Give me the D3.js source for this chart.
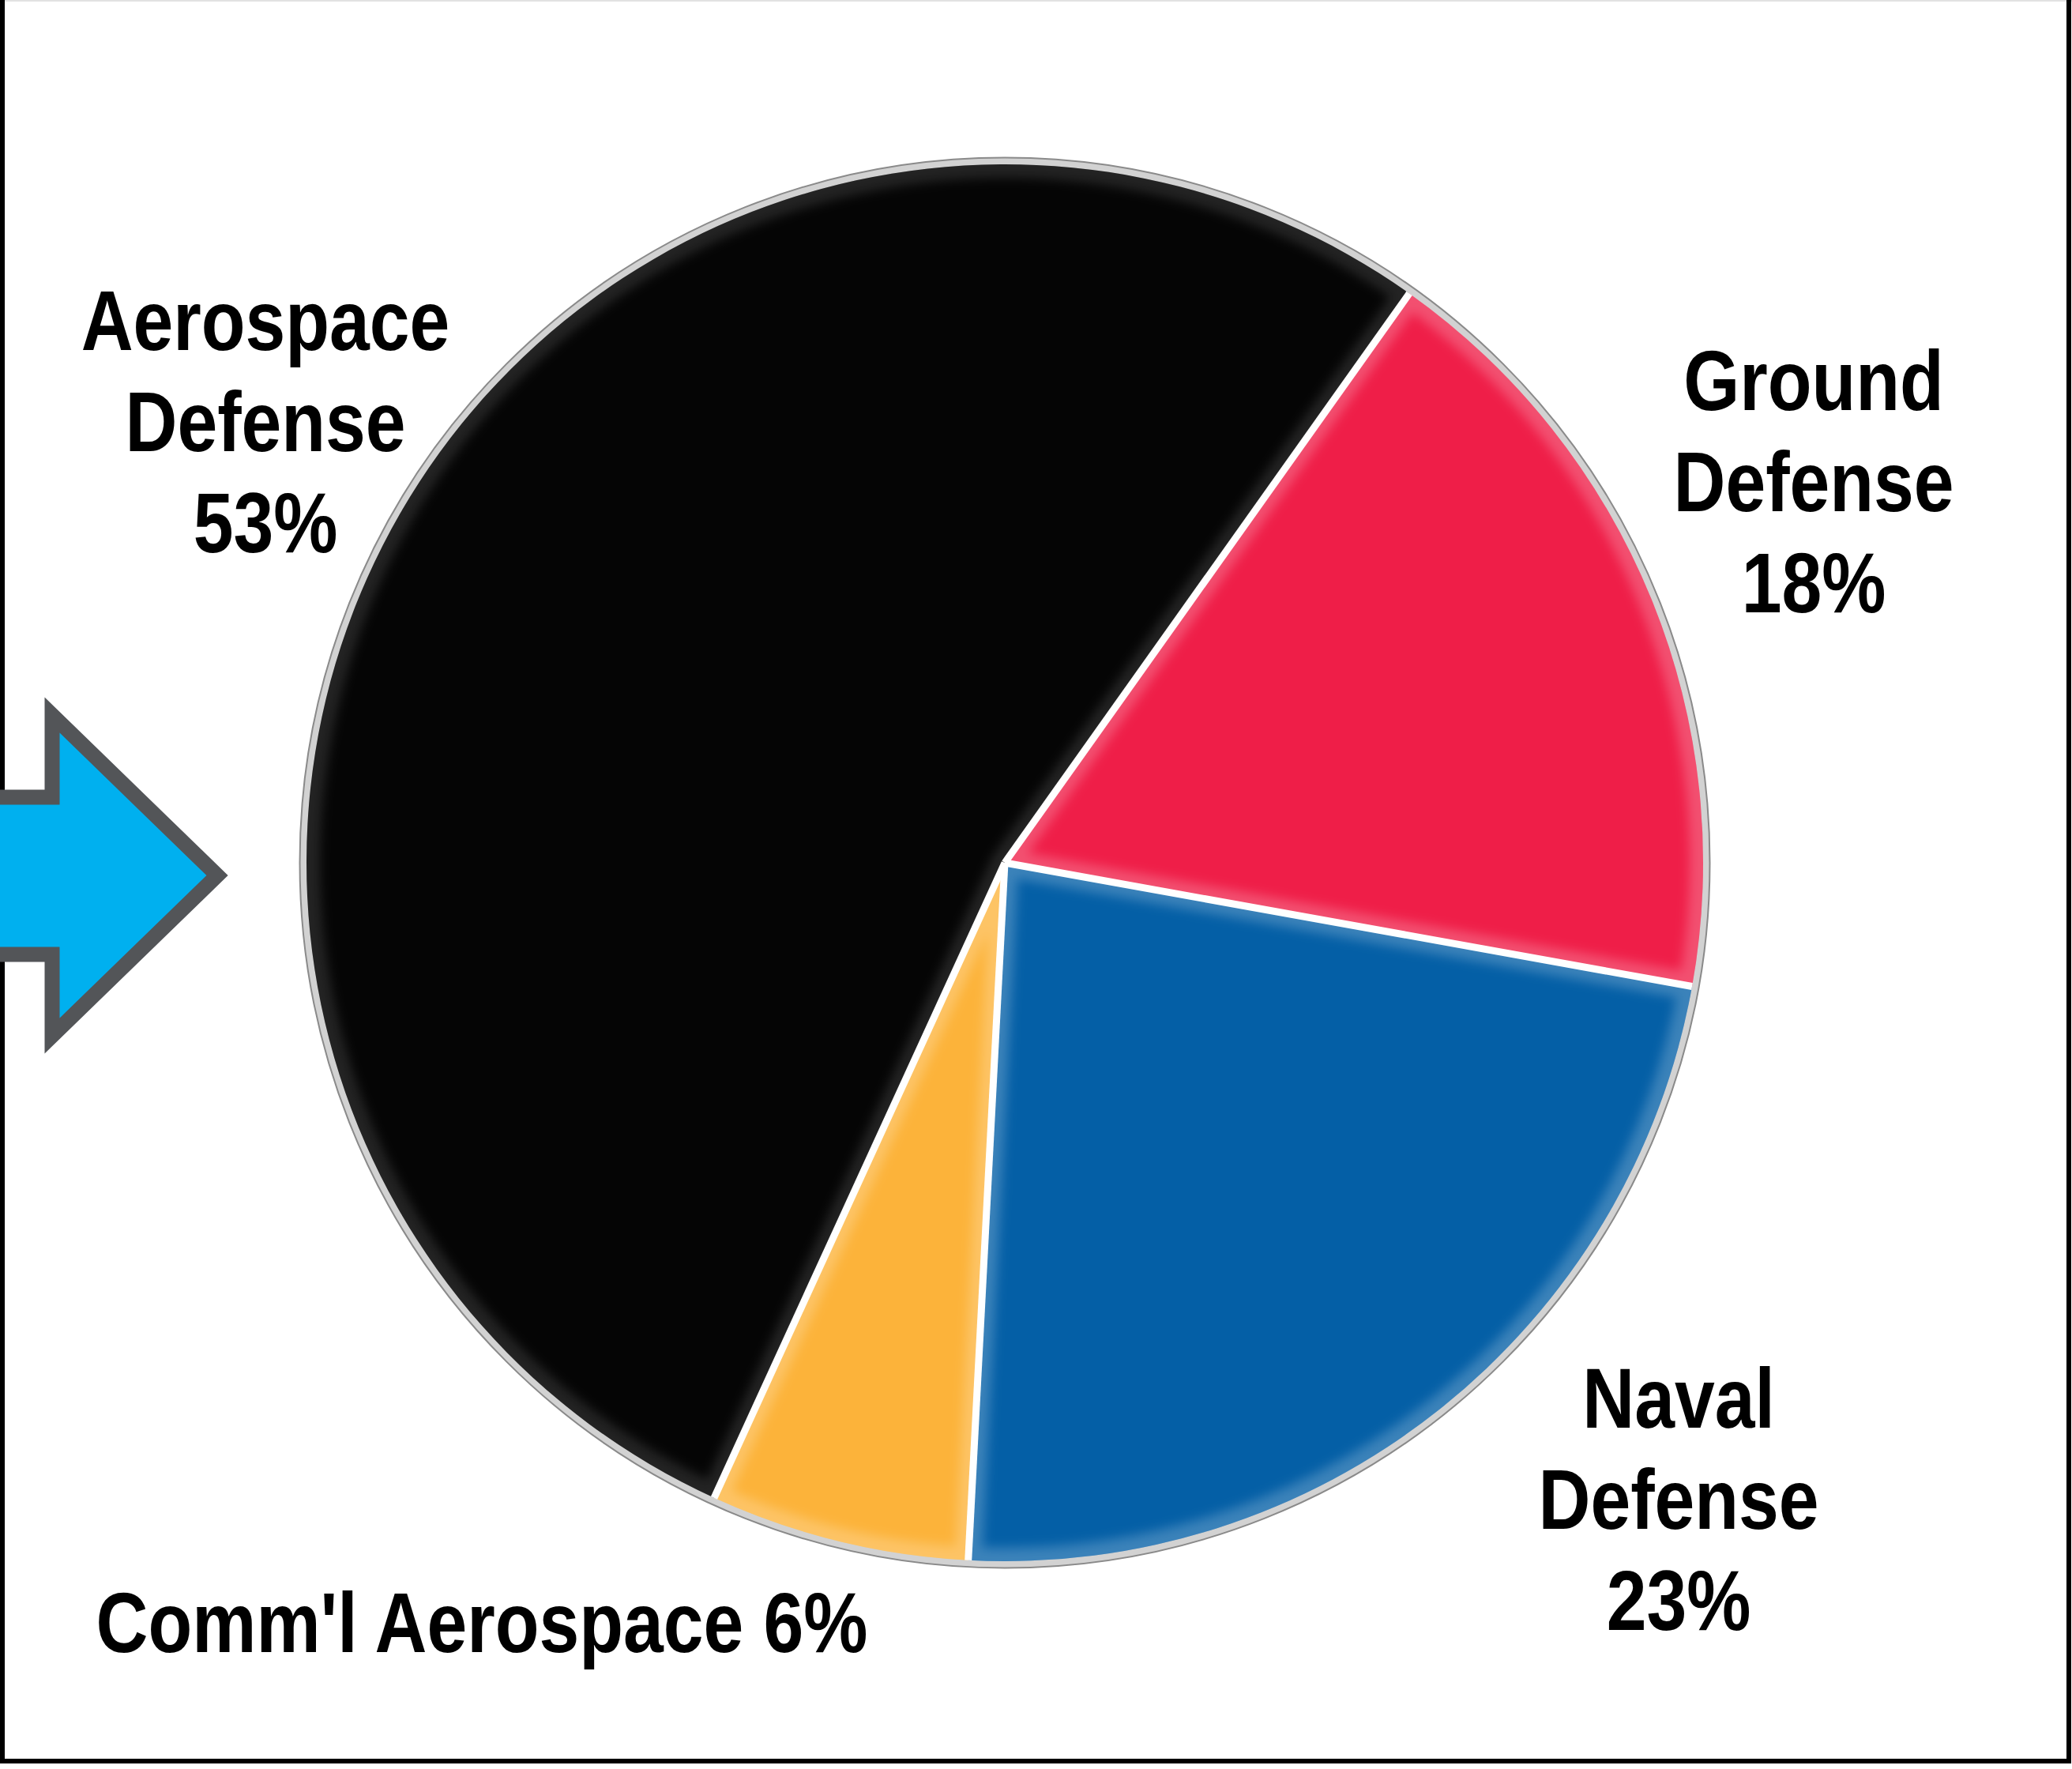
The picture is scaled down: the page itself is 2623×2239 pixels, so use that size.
<!DOCTYPE html>
<html>
<head>
<meta charset="utf-8">
<script src="https://cdn.jsdelivr.net/npm/d3@7"></script>
<style>
  html, body { margin: 0; padding: 0; background: #ffffff; }
  svg { display: block; }
</style>
</head>
<body>
<script>
// ---- Data ----
const categories = ["Aerospace Defense", "Ground Defense", "Naval Defense", "Comm'l Aerospace"];
const values = [53, 18, 23, 6];
const labelLines = [
  ["Aerospace", "Defense", "53%"],
  ["Ground", "Defense", "18%"],
  ["Naval", "Defense", "23%"],
  ["Comm'l Aerospace 6%"]
];
const colors = ["#050505", "#EF1E48", "#045FA6", "#FCB33A"];

// ---- Layout ----
const W = 2623, H = 2239;
const cx = 1272, cy = 1092;
const rOuter = 884;
const startDeg = -155.4;
const deg = Math.PI / 180;

const svg = d3.select("body").append("svg")
  .attr("width", W).attr("height", H)
  .attr("viewBox", `0 0 ${W} ${H}`);

const defs = svg.append("defs");
defs.append("filter").attr("id", "soft")
  .attr("x", "-20%").attr("y", "-20%").attr("width", "140%").attr("height", "140%")
  .append("feGaussianBlur").attr("stdDeviation", 7);

// Frame
svg.append("line").attr("x1", 0).attr("x2", W).attr("y1", 1).attr("y2", 1)
  .attr("stroke", "#e2e2e2").attr("stroke-width", 2);
svg.append("line").attr("x1", 3).attr("x2", 3).attr("y1", 0).attr("y2", 2232)
  .attr("stroke", "#000").attr("stroke-width", 6);
svg.append("line").attr("x1", 2619).attr("x2", 2619).attr("y1", 0).attr("y2", 2232)
  .attr("stroke", "#000").attr("stroke-width", 6);
svg.append("line").attr("x1", 0).attr("x2", 2622).attr("y1", 2229).attr("y2", 2229)
  .attr("stroke", "#000").attr("stroke-width", 6);

// Arrow
const arrowPts = [[-20, 1009], [66, 1009], [66, 905], [275, 1108], [66, 1311], [66, 1208], [-20, 1208]];
svg.append("path")
  .attr("d", d3.line()(arrowPts) + "Z")
  .attr("fill", "#00B0EF")
  .attr("stroke", "#535558")
  .attr("stroke-width", 19)
  .attr("stroke-linejoin", "miter")
  .attr("stroke-miterlimit", 10);

// Pie
const pie = d3.pie().sort(null).value(d => d.value)
  .startAngle(startDeg * deg).endAngle((startDeg + 360) * deg);
const data = categories.map((c, i) => ({ name: c, value: values[i], color: colors[i], i }));
const arcs = pie(data);
const arc = d3.arc().innerRadius(0).outerRadius(rOuter);

const g = svg.append("g").attr("transform", `translate(${cx},${cy})`);

// outer ring
g.append("circle").attr("r", rOuter + 8).attr("fill", "none")
  .attr("stroke", "#8a8a8a").attr("stroke-width", 3);
g.append("circle").attr("r", rOuter + 3).attr("fill", "none")
  .attr("stroke", "#d2d2d2").attr("stroke-width", 9);

arcs.forEach((a, k) => {
  defs.append("clipPath").attr("id", "clip" + k)
    .append("path").attr("d", arc(a));
});

g.selectAll("path.slice")
  .data(arcs)
  .join("path")
  .attr("class", "slice")
  .attr("d", arc)
  .attr("fill", d => d.data.color);

// subtle bevel highlight along slice edges
g.selectAll("g.bevel")
  .data(arcs)
  .join("g")
  .attr("class", "bevel")
  .attr("clip-path", (d, k) => `url(#clip${k})`)
  .append("path")
  .attr("d", arc)
  .attr("fill", "none")
  .attr("stroke", "#ffffff")
  .attr("stroke-width", 34)
  .attr("stroke-opacity", d => d.index === 0 ? 0.12 : 0.22)
  .attr("filter", "url(#soft)");

// white separators
g.selectAll("path.sep")
  .data(arcs)
  .join("path")
  .attr("class", "sep")
  .attr("d", d => {
    const p = d3.path();
    p.moveTo(0, 0);
    p.lineTo(Math.sin(d.startAngle) * rOuter, -Math.cos(d.startAngle) * rOuter);
    return p.toString();
  })
  .attr("stroke", "#ffffff")
  .attr("stroke-width", 9)
  .attr("stroke-linecap", "butt");

// Labels
const labelPos = [
  { x: 336, y: 443 },
  { x: 2296, y: 519 },
  { x: 2125, y: 1807 },
  { x: 610, y: 2091 }
];
const lineGap = 128;
const fontSize = 108;
const sx = 0.845;

const labels = svg.selectAll("g.label")
  .data(arcs)
  .join("g")
  .attr("class", "label")
  .attr("transform", (d, k) => `translate(${labelPos[k].x},${labelPos[k].y}) scale(${sx},1)`);

labels.each(function (d, k) {
  const t = d3.select(this).append("text")
    .attr("text-anchor", "middle")
    .attr("font-family", "'Liberation Sans', Arial, sans-serif")
    .attr("font-weight", "bold")
    .attr("font-size", fontSize)
    .attr("fill", "#000");
  labelLines[k].forEach((ln, j) => {
    t.append("tspan").attr("x", 0).attr("y", j * lineGap).text(ln);
  });
});
</script>
</body>
</html>
